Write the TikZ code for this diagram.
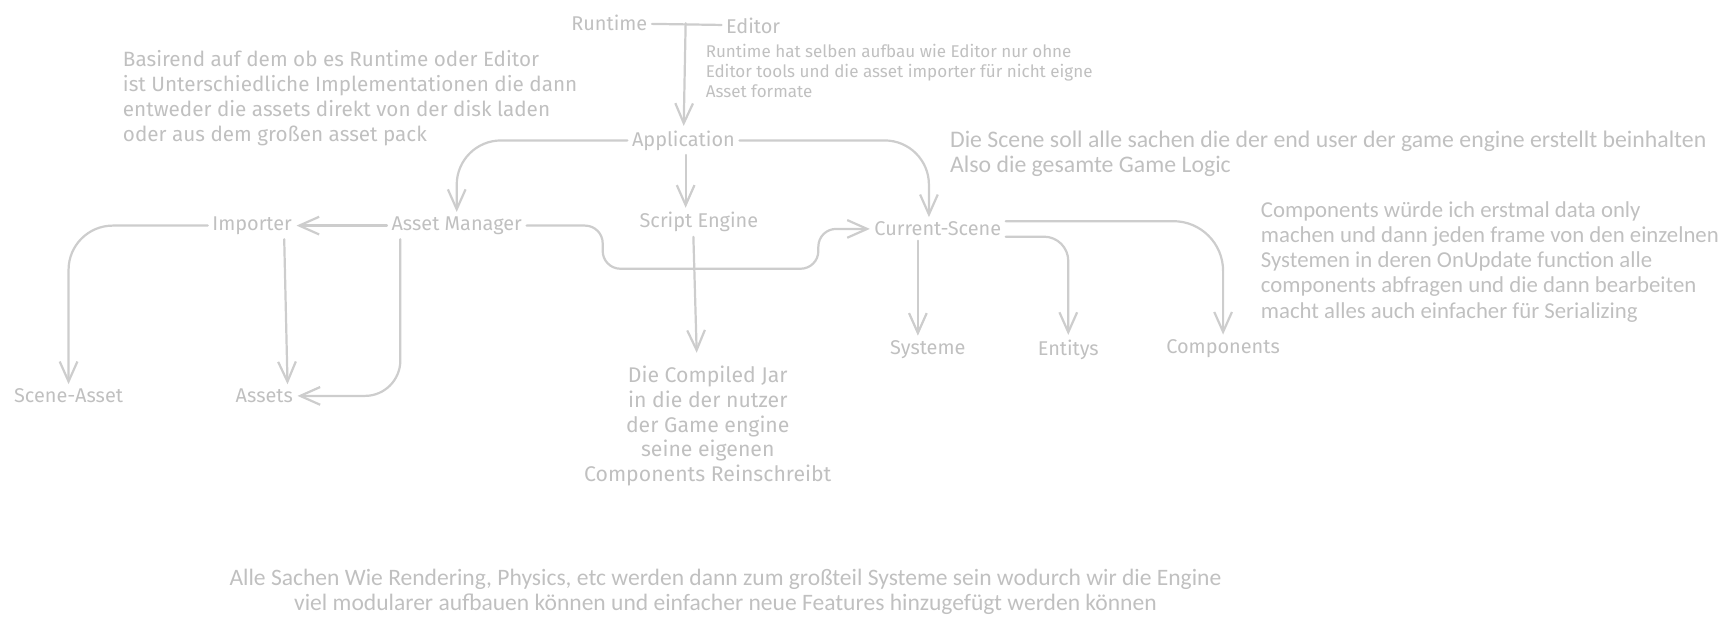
\documentclass[tikz,border=0pt]{standalone}
\usepackage{fontspec}
\setmainfont{Fira Sans}
\newfontfamily\handfont{Carlito}
\usetikzlibrary{arrows.meta}
\definecolor{inkgray}{RGB}{192,192,192}
\definecolor{linegray}{RGB}{205,205,205}

\begin{document}
\begin{tikzpicture}[x=1pt,y=-1pt,
        part/.style={text=inkgray,inner sep=4pt,font=\fontsize{18}{22}\selectfont},
        remark/.style={text=inkgray,inner sep=0pt,align=left,font=\fontsize{18.7}{22.6}\selectfont},
        smallremark/.style={remark,font=\fontsize{15.4}{18}\selectfont},
        handremark/.style={remark,font=\handfont\fontsize{21}{22.7}\selectfont},
        wire/.style={draw=linegray,line width=2pt,line cap=round},
        flow/.style={wire,-{Straight Barb[length=18pt,width=16pt,line width=2pt]}}]
        		\useasboundingbox (0,0) rectangle (1568,565);
        		%nodes
        			  \node[part] (runtime) at (551,21) {Runtime};
        			  \node[part] (editor) at (681,23) {Editor};
        			  \coordinate (fork) at (620,21);
        			  \node[part] (app) at (618,127) {Application};
        			  \node[part] (importer) at (228,204) {Importer};
        			  \node[part] (assetmgr) at (413,204) {Asset Manager};
        			  \node[part] (script) at (632,201) {Script Engine};
        			  \node[part] (scene) at (848,207) {Current-Scene};
        			  \node[part] (systeme) at (839,316) {Systeme};
        			  \node[part] (entitys) at (966,316) {Entitys};
        			  \node[part] (components) at (1106,315) {Components};
        			  \node[part] (sceneasset) at (62,358) {Scene-Asset};
        			  \node[part] (assets) at (239,358) {Assets};
        		%remarks
        			  \node[smallremark,anchor=north west] (editornote) at (638,40)
        			  	{Runtime hat selben aufbau wie Editor nur ohne\\Editor tools und die asset importer für nicht eigne\\Asset formate};
        			  \node[remark,anchor=north west] (assetnote) at (111,45)
        			  	{Basirend auf dem ob es Runtime oder Editor\\ist Unterschiedliche Implementationen die dann\\entweder die assets direkt von der disk laden\\oder aus dem großen asset pack};
        			  \node[handremark,anchor=north west,font=\handfont\fontsize{21.5}{22.5}\selectfont] (scenenote) at (859,118)
        			  	{Die Scene soll alle sachen die der end user der game engine erstellt beinhalten\\Also die gesamte Game Logic};
        			  \node[handremark,anchor=north west,font=\handfont\fontsize{20.6}{22.8}\selectfont] (compnote) at (1140,182)
        			  	{Components würde ich erstmal data only\\machen und dann jeden frame von den einzelnen\\Systemen in deren OnUpdate function alle\\components abfragen und die dann bearbeiten\\macht alles auch einfacher für Serializing};
        			  \node[remark,align=center,inner sep=12pt,anchor=north,font=\fontsize{19.2}{22.3}\selectfont] (jar) at (640,319)
        			  	{Die Compiled Jar\\in die der nutzer\\der Game engine\\seine eigenen\\Components Reinschreibt};
        			  \node[handremark,align=center,font=\handfont\fontsize{21.3}{23}\selectfont] (summary) at (656,535)
        			  	{Alle Sachen Wie Rendering, Physics, etc werden dann zum großteil Systeme sein wodurch wir die Engine\\viel modularer aufbauen können und einfacher neue Features hinzugefügt werden können};
        		%Edges
        			  \path (runtime) edge [wire] (editor);
        			  \path (fork) edge [flow] (app);
        			  \path ([xshift=2pt]app.south) edge [flow] ([xshift=-12pt]script.north);
        			  \path (assetmgr) edge [flow] (importer);
        			  \path ([xshift=29pt]importer.south) edge [flow] ([xshift=21pt]assets.north);
        			  \path ([xshift=-5pt]script.south) edge [flow] ([xshift=-10pt]jar.north);
        			  \path ([xshift=-18pt]scene.south) edge [flow] ([xshift=-9pt]systeme.north);
        			  \draw[flow,rounded corners=40pt] (app.west) -| (assetmgr.north);
        			  \draw[flow,rounded corners=40pt] (app.east) -| ([xshift=-8pt]scene.north);
        			  \draw[flow,rounded corners=16pt] (assetmgr.east) -| (545,243) -| (740,207) -- (scene.west);
        			  \draw[flow,rounded corners=32pt] ([xshift=-51pt]assetmgr.south) |- (assets.east);
        			  \draw[flow,rounded corners=40pt] (importer.west) -| (sceneasset.north);
        			  \draw[flow,rounded corners=45pt] ([yshift=7pt]scene.east) -| (components.north);
        			  \draw[flow,rounded corners=22pt] ([yshift=-7pt]scene.east) -| (entitys.north);
\end{tikzpicture}
\end{document}
